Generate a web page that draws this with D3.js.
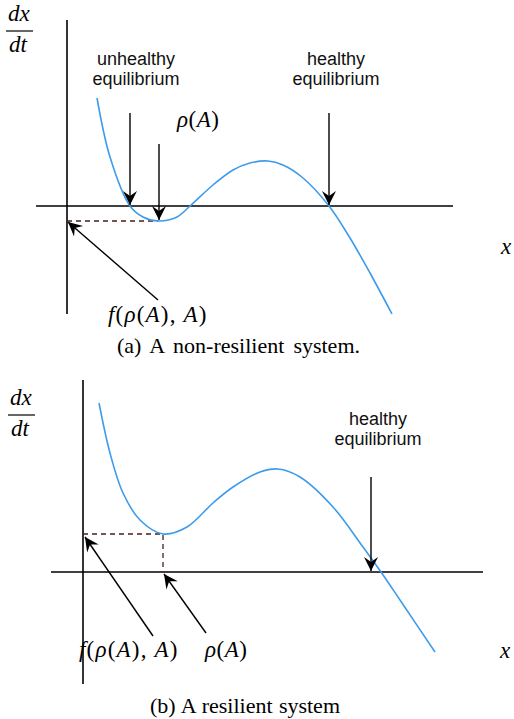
<!DOCTYPE html>
<html>
<head>
<meta charset="utf-8">
<script src="https://cdn.jsdelivr.net/npm/d3@7"></script>
<style>
  body { margin: 0; background: #fff; }
  .sans { font-family: "Liberation Sans", Arial, sans-serif; }
  .serif { font-family: "Liberation Serif", "Times New Roman", serif; }
</style>
</head>
<body>
<svg id="chart"></svg>
<script>
// ---- data (units: one unit = 10px, origin at the axes crossing) ----
const curveA = [
  [3.0, 10.8], [4.3, 4.9], [6.3, 0], [7.6, -1.1], [9.1, -1.5], [11.0, -1.1],
  [12.3, 0], [14.6, 2.1], [16.6, 3.6], [18.3, 4.3], [20.1, 4.5], [21.6, 4.1],
  [23.6, 2.8], [26.2, 0], [28.3, -3.2], [30.3, -6.7], [32.5, -10.8]
];
const curveB = [
  [1.6, 16.9], [2.7, 11.9], [4.0, 7.9], [5.7, 5.2], [8.0, 3.8], [10.4, 4.5],
  [13.0, 6.9], [15.0, 8.5], [17.7, 10.0], [19.5, 10.3], [21.7, 9.5], [25.0, 6.5],
  [28.0, 2.5], [29.8, 0], [31.7, -2.8], [35.2, -8.0]
];
const arrowsA = [
  [[6.3, 9.3], [6.3, 0.1]],
  [[9.2, 6.2], [9.2, -1.4]],
  [[26.2, 9.3], [26.2, 0.1]],
  [[9.1, -9.4], [0.1, -1.6]]
];
const arrowsB = [
  [[28.8, 9.5], [28.8, 0.1]],
  [[7.0, -6.4], [0.2, 3.5]],
  [[12.3, -6.1], [8.1, -0.2]]
];
const dashedA = [[0, -1.5], [9.1, -1.5]];
const dashedB = [[0, 3.8], [8.0, 3.8], [8.0, 0]];
const axisExtentA = {x: [-3.1, 38.6], y: [-10.8, 18.6]};
const axisExtentB = {x: [-3.2, 40.0], y: [-11.2, 19.2]};
const captions = ['(a) A non-resilient system.', '(b) A resilient system'];
const wordLabels = ['unhealthy', 'equilibrium', 'healthy'];
const mathLabels = ['\u03c1(A)', 'f(\u03c1(A), A)', 'x'];

class PhasePlot {
  constructor(_config) {
    this.config = {
      parentElement: _config.parentElement,
      origin: _config.origin,
      curve: _config.curve,
      arrows: _config.arrows,
      dashed: _config.dashed,
      extent: _config.extent,
      unit: 10
    };
    this.initVis();
  }

  initVis() {
    let vis = this;
    const c = vis.config;
    vis.x = d3.scaleLinear().domain([0, 1]).range([c.origin[0], c.origin[0] + c.unit]);
    vis.y = d3.scaleLinear().domain([0, 1]).range([c.origin[1], c.origin[1] - c.unit]);
    vis.g = c.parentElement.append('g');

    vis.line = d3.line().x(d => vis.x(d[0])).y(d => vis.y(d[1]));
    vis.smooth = d3.line().x(d => vis.x(d[0])).y(d => vis.y(d[1]))
        .curve(d3.curveCatmullRom.alpha(0.5));

    // axes
    vis.g.append('line')
        .attr('x1', vis.x(c.extent.x[0])).attr('x2', vis.x(c.extent.x[1]))
        .attr('y1', vis.y(0)).attr('y2', vis.y(0))
        .attr('stroke', '#000').attr('stroke-width', 1.6);
    vis.g.append('line')
        .attr('x1', vis.x(0)).attr('x2', vis.x(0))
        .attr('y1', vis.y(c.extent.y[1])).attr('y2', vis.y(c.extent.y[0]))
        .attr('stroke', '#000').attr('stroke-width', 1.6);

    vis.renderVis();
  }

  renderVis() {
    let vis = this;
    const c = vis.config;

    vis.g.append('path')
        .attr('d', vis.line(c.dashed))
        .attr('fill', 'none')
        .attr('stroke', '#4a1c1c')
        .attr('stroke-width', 1.3)
        .attr('stroke-dasharray', '5,4');

    vis.g.append('path')
        .attr('d', vis.smooth(c.curve))
        .attr('fill', 'none')
        .attr('stroke', '#3d9bec')
        .attr('stroke-width', 1.6);

    vis.g.selectAll('.arrow')
      .data(c.arrows)
      .join('line')
        .attr('class', 'arrow')
        .attr('x1', d => vis.x(d[0][0])).attr('y1', d => vis.y(d[0][1]))
        .attr('x2', d => vis.x(d[1][0])).attr('y2', d => vis.y(d[1][1]))
        .attr('stroke', '#000')
        .attr('stroke-width', 1.4)
        .attr('marker-end', 'url(#arrow-head)');
  }
}

const svg = d3.select('#chart')
    .attr('width', 514)
    .attr('height', 719);

svg.append('rect').attr('width', 514).attr('height', 719).attr('fill', '#fff');

svg.append('defs').append('marker')
    .attr('id', 'arrow-head')
    .attr('markerUnits', 'userSpaceOnUse')
    .attr('viewBox', '-15 -8 16 16')
    .attr('refX', 0)
    .attr('refY', 0)
    .attr('markerWidth', 16)
    .attr('markerHeight', 16)
    .attr('orient', 'auto')
  .append('path')
    .attr('d', 'M0,0 L-14,-7 L-9,0 L-14,7 Z')
    .attr('fill', '#000');

const plotA = new PhasePlot({parentElement: svg, origin: [67, 206], curve: curveA,
  arrows: arrowsA, dashed: dashedA, extent: axisExtentA});
const plotB = new PhasePlot({parentElement: svg, origin: [83, 572], curve: curveB,
  arrows: arrowsB, dashed: dashedB, extent: axisExtentB});

// math text: letters italic, punctuation upright
function mathText(sel, str, x, y, size, spacing) {
  const t = sel.append('text')
      .attr('class', 'serif')
      .attr('x', x).attr('y', y)
      .attr('font-size', size)
      .attr('letter-spacing', spacing || 0)
      .attr('text-anchor', 'start');
  str.split('').forEach(ch => {
    t.append('tspan')
      .attr('font-style', /[A-Za-z\u03c1]/.test(ch) ? 'italic' : 'normal')
      .text(ch);
  });
  return t;
}

function fraction(sel, cx, barY) {
  mathText(sel, 'dx', cx - 12, barY - 10, 23);
  sel.append('line')
      .attr('x1', cx - 14).attr('x2', cx + 13)
      .attr('y1', barY).attr('y2', barY)
      .attr('stroke', '#000').attr('stroke-width', 1.2);
  mathText(sel, 'dt', cx - 11, barY + 21, 23);
}

function wordLabel(sel, lines, cx, y) {
  lines.forEach((s, i) => {
    sel.append('text')
        .attr('class', 'sans')
        .attr('x', cx).attr('y', y + i * 20)
        .attr('text-anchor', 'middle')
        .attr('font-size', 18)
        .attr('fill', '#111')
        .text(s);
  });
}

// captions: stretch only the word gaps to the measured line width
function caption(sel, s, x, y, width) {
  const t = sel.append('text').attr('class', 'serif')
      .attr('x', x).attr('y', y)
      .attr('font-size', 22)
      .text(s);
  const natural = t.node().getComputedTextLength();
  const gaps = s.split(' ').length - 1;
  t.attr('word-spacing', Math.max(0, (width - natural) / gaps));
}

// panel (a) labels
fraction(svg, 20, 31);
wordLabel(svg, [wordLabels[0], wordLabels[1]], 136, 65);
wordLabel(svg, [wordLabels[2], wordLabels[1]], 336, 65);
mathText(svg, mathLabels[0], 177, 127, 23, 0.5);
mathText(svg, mathLabels[1], 108, 322, 23, 1.2);
mathText(svg, mathLabels[2], 501, 254, 23);

// panel (b) labels
fraction(svg, 22, 415);
wordLabel(svg, [wordLabels[2], wordLabels[1]], 378, 425);
mathText(svg, mathLabels[1], 79, 657, 23, 1.2);
mathText(svg, mathLabels[0], 205, 657, 23, 0.5);
mathText(svg, mathLabels[2], 500, 658, 23);

// captions
caption(svg, captions[0], 117, 353, 243);
caption(svg, captions[1], 150, 713, 190);
</script>
</body>
</html>
